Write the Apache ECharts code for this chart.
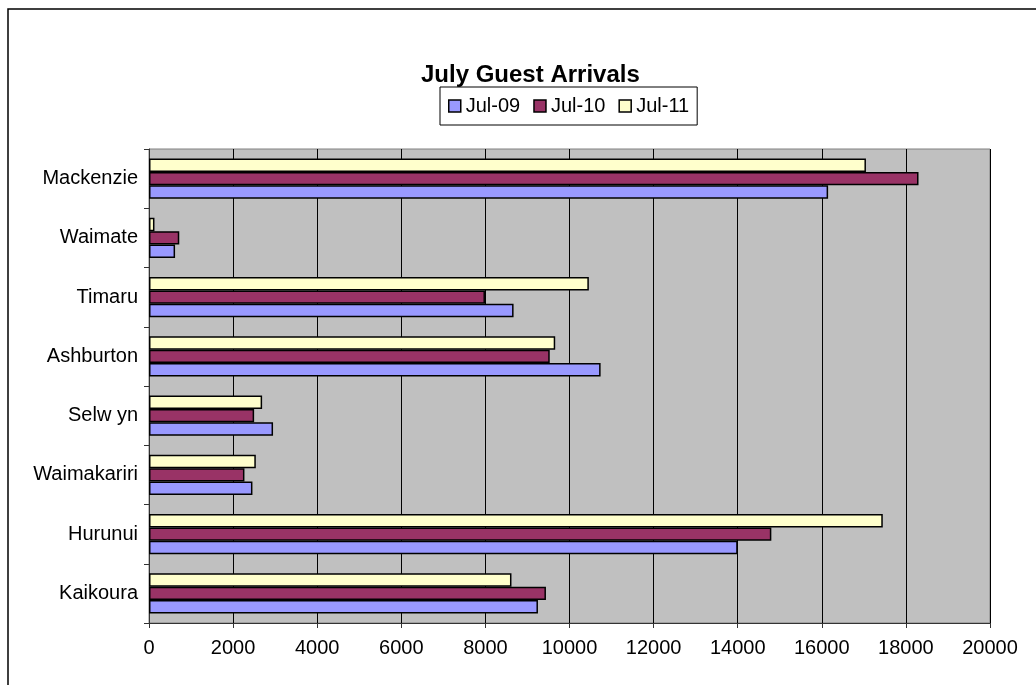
<!DOCTYPE html>
<html>
<head>
<meta charset="utf-8">
<script src="https://cdn.jsdelivr.net/npm/echarts@6/dist/echarts.min.js"></script>
<style>
  html, body { margin: 0; padding: 0; background: #fff; }
  #chart { width: 1036px; height: 685px; }
</style>
</head>
<body>
<div id="chart"></div>
<script>
// districts, bottom to top as the category axis draws them
const districts = ["Kaikoura", "Hurunui", "Waimakariri", "Selw yn", "Ashburton", "Timaru", "Waimate", "Mackenzie"];
const jul09 = [9250, 14000, 2460, 2950, 10740, 8670, 620, 16150];
const jul10 = [9440, 14800, 2270, 2500, 9530, 7990, 720, 18300];
const jul11 = [8620, 17450, 2540, 2690, 9660, 10460, 130, 17050];
const seriesNames = ["Jul-09", "Jul-10", "Jul-11"];
const colors = ["#9999FF", "#993366", "#FFFFCC"];

const font = "'Liberation Sans', Arial, sans-serif";
const chart = echarts.init(document.getElementById("chart"));

function barSeries(name, data, color) {
  return {
    name: name,
    type: "bar",
    data: data,
    barGap: "0%",
    barCategoryGap: "32%",
    itemStyle: { color: color, borderColor: "#000", borderWidth: 1.5 },
    emphasis: { disabled: true },
  };
}

const option = {
  animation: false,
  textStyle: { fontFamily: font },
  graphic: [
    {
      type: "rect",
      shape: { x: 8, y: 9, width: 1040, height: 690 },
      style: { fill: "none", stroke: "#000", lineWidth: 1.5 },
      silent: true,
    },
  ],
  title: {
    text: "July Guest Arrivals",
    left: 416,
    top: 58,
    textStyle: { fontFamily: font, fontSize: 24, fontWeight: "bold", color: "#000" },
  },
  legend: {
    data: seriesNames,
    top: 87,
    left: 440,
    icon: "rect",
    itemWidth: 12,
    itemHeight: 12,
    itemGap: 13,
    padding: [9, 8, 9, 8],
    borderColor: "#000",
    borderWidth: 1,
    textStyle: { fontFamily: font, fontSize: 20, color: "#000" },
    itemStyle: { borderColor: "#000", borderWidth: 1.5 },
  },
  grid: {
    left: 149,
    right: 46,
    top: 149,
    bottom: 62,
    show: true,
    backgroundColor: "#C0C0C0",
    borderColor: "#808080",
    borderWidth: 1,
  },
  xAxis: {
    type: "value",
    min: 0,
    max: 20000,
    interval: 2000,
    axisLine: { show: true, lineStyle: { color: "#333", width: 1 } },
    axisTick: { show: true, length: 5, lineStyle: { color: "#333" } },
    axisLabel: {
      fontFamily: font, fontSize: 20, color: "#000", margin: 15,
      formatter: (v) => String(v),
    },
    splitLine: { show: true, lineStyle: { color: "#000", width: 1 } },
  },
  yAxis: {
    type: "category",
    data: districts,
    axisLine: { show: true, lineStyle: { color: "#333", width: 1 } },
    axisTick: { show: true, length: 5, lineStyle: { color: "#333" } },
    axisLabel: { fontFamily: font, fontSize: 20, color: "#000", margin: 11 },
    splitLine: { show: false },
  },
  // drawn last-to-first so Jul-09 sits at the bottom of each group
  series: [
    barSeries(seriesNames[2], jul11, colors[2]),
    barSeries(seriesNames[1], jul10, colors[1]),
    barSeries(seriesNames[0], jul09, colors[0]),
  ],
};

chart.setOption(option);
</script>
</body>
</html>
